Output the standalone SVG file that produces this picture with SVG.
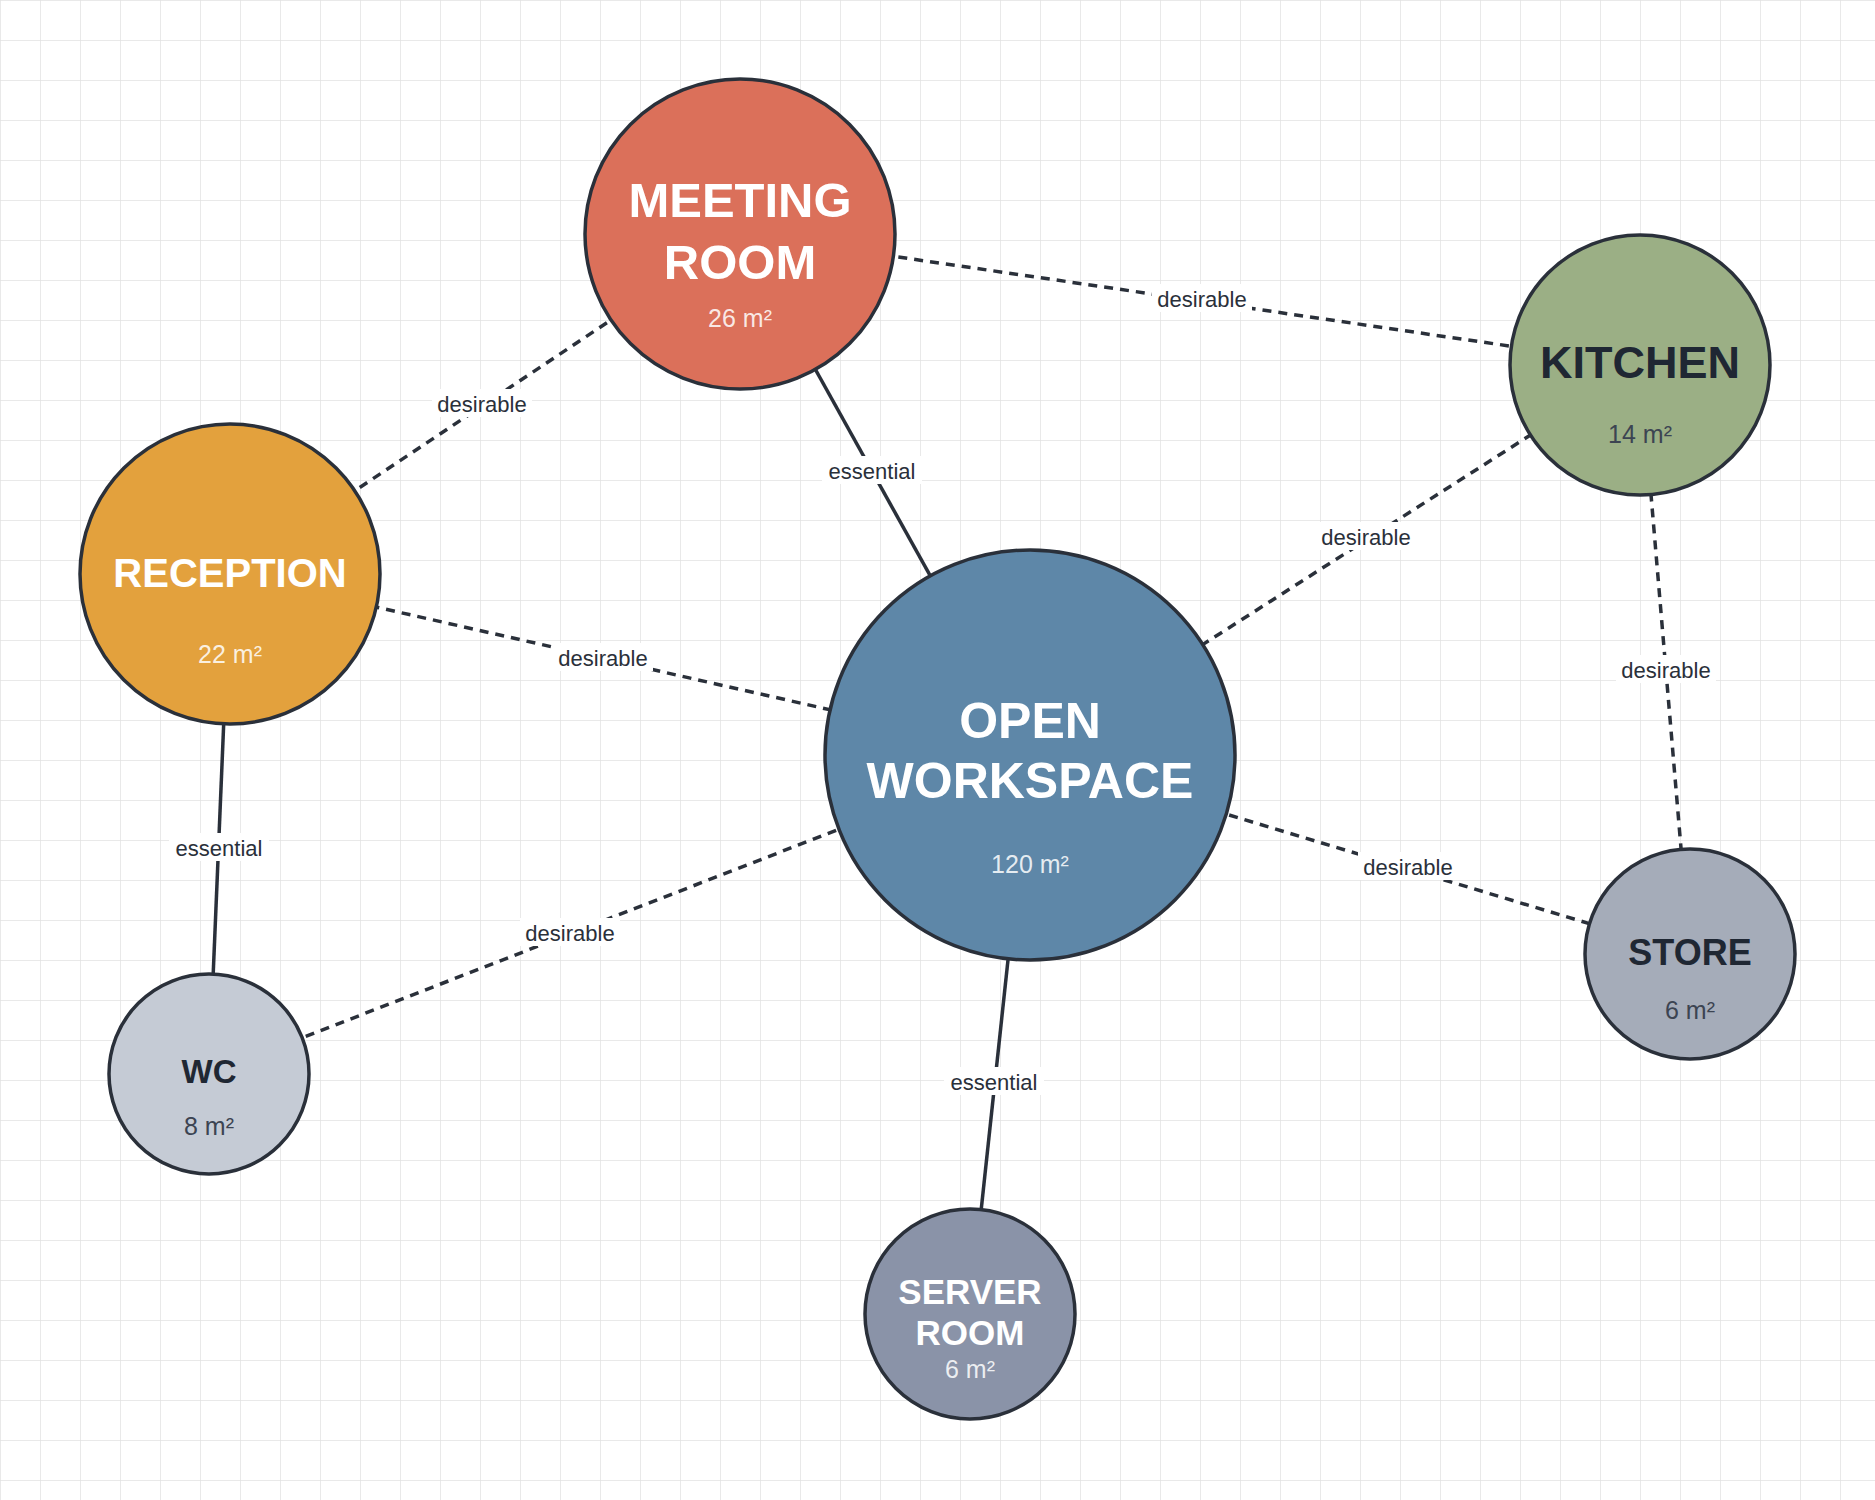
<svg xmlns="http://www.w3.org/2000/svg" width="1875" height="1500" viewBox="0 0 1875 1500">
<defs>
<pattern id="grid" width="40" height="40" patternUnits="userSpaceOnUse"><path d="M40 0H0V40" fill="none" stroke="#e2e2e2" stroke-width="1.5"/></pattern>
<style>
.n{stroke:#2a303a;stroke-width:3.5}
.e{stroke:#2a303a;stroke-width:3.5;fill:none}
.d{stroke-dasharray:9 7}
.lb{fill:#fff}
.lt{font-family:"Liberation Sans",Arial,sans-serif;font-size:22px;fill:#2a303a;text-anchor:middle}
.t{font-family:"Liberation Sans",Arial,sans-serif;font-weight:bold;text-anchor:middle}
.a{font-family:"Liberation Sans",Arial,sans-serif;font-size:25px;text-anchor:middle}
.w{fill:#fff}.k{fill:#1f2733}.wa{fill:#fff;fill-opacity:0.85}.ka{fill:#3c4452}
</style>
</defs>
<rect width="1875" height="1500" fill="#fff"/>
<rect width="1875" height="1500" fill="url(#grid)"/>
<g id="connectors">
<line class="e d" x1="740" y1="234" x2="1640" y2="365"/>
<line class="e d" x1="740" y1="234" x2="230" y2="574"/>
<line class="e" x1="740" y1="234" x2="1030" y2="755"/>
<line class="e d" x1="1640" y1="365" x2="1030" y2="755"/>
<line class="e d" x1="1640" y1="365" x2="1690" y2="954"/>
<line class="e d" x1="230" y1="574" x2="1030" y2="755"/>
<line class="e" x1="230" y1="574" x2="209" y2="1074"/>
<line class="e d" x1="1030" y1="755" x2="209" y2="1074"/>
<line class="e d" x1="1030" y1="755" x2="1690" y2="954"/>
<line class="e" x1="1030" y1="755" x2="970" y2="1314"/>
<rect class="lb" x="1152" y="284" width="100" height="28"/><text class="lt" x="1202" y="307">desirable</text>
<rect class="lb" x="432" y="389" width="100" height="28"/><text class="lt" x="482" y="412">desirable</text>
<rect class="lb" x="822" y="456" width="100" height="28"/><text class="lt" x="872" y="479">essential</text>
<rect class="lb" x="1316" y="522" width="100" height="28"/><text class="lt" x="1366" y="545">desirable</text>
<rect class="lb" x="1616" y="655" width="100" height="28"/><text class="lt" x="1666" y="678">desirable</text>
<rect class="lb" x="553" y="643" width="100" height="28"/><text class="lt" x="603" y="666">desirable</text>
<rect class="lb" x="169" y="833" width="100" height="28"/><text class="lt" x="219" y="856">essential</text>
<rect class="lb" x="520" y="918" width="100" height="28"/><text class="lt" x="570" y="941">desirable</text>
<rect class="lb" x="1358" y="852" width="100" height="28"/><text class="lt" x="1408" y="875">desirable</text>
<rect class="lb" x="944" y="1067" width="100" height="28"/><text class="lt" x="994" y="1090">essential</text>
</g>
<g id="meeting-room"><circle class="n" cx="740" cy="234" r="155" fill="#db705a"/>
<text class="t w" x="740" y="217" font-size="49">MEETING</text><text class="t w" x="740" y="279" font-size="49">ROOM</text>
<text class="a wa" x="740" y="327">26 m²</text></g>
<g id="kitchen"><circle class="n" cx="1640" cy="365" r="130" fill="#9baf85"/>
<text class="t k" x="1640" y="378" font-size="45">KITCHEN</text><text class="a ka" x="1640" y="443">14 m²</text></g>
<g id="reception"><circle class="n" cx="230" cy="574" r="150" fill="#e3a13d"/>
<text class="t w" x="230" y="587" font-size="40">RECEPTION</text><text class="a wa" x="230" y="663">22 m²</text></g>
<g id="open-workspace"><circle class="n" cx="1030" cy="755" r="205" fill="#5e87a8"/>
<text class="t w" x="1030" y="738" font-size="50">OPEN</text><text class="t w" x="1030" y="798" font-size="50">WORKSPACE</text>
<text class="a wa" x="1030" y="873">120 m²</text></g>
<g id="store"><circle class="n" cx="1690" cy="954" r="105" fill="#a5acb9"/>
<text class="t k" x="1690" y="965" font-size="36">STORE</text><text class="a ka" x="1690" y="1019">6 m²</text></g>
<g id="wc"><circle class="n" cx="209" cy="1074" r="100" fill="#c5cbd5"/>
<text class="t k" x="209" y="1083" font-size="33">WC</text><text class="a ka" x="209" y="1135">8 m²</text></g>
<g id="server-room"><circle class="n" cx="970" cy="1314" r="105" fill="#8a93a8"/>
<text class="t w" x="970" y="1304" font-size="35">SERVER</text><text class="t w" x="970" y="1345" font-size="35">ROOM</text>
<text class="a wa" x="970" y="1378">6 m²</text></g>
</svg>
